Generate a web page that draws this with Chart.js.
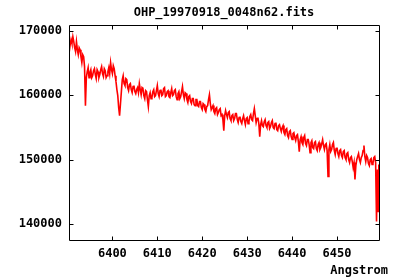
<!DOCTYPE html>
<html lang="en">
<head>
    <meta charset="UTF-8">
    <title>OHP_19970918_0048n62.fits</title>
    <script src="https://cdn.jsdelivr.net/npm/chart.js"></script>
    <style>
        body { margin: 0; background: #fff; }
        canvas { display: block; }
    </style>
</head>
<body>
    <canvas id="spectrum" width="400" height="280"></canvas>

    <script>
        const chartTitle = 'OHP_19970918_0048n62.fits';
        const xLabel = 'Angstrom';

        const wavelength = [
            6390.4, 6390.6, 6390.8, 6391.0, 6391.2, 6391.4, 6391.6, 6391.8, 6392.0, 6392.2,
            6392.4, 6392.6, 6392.8, 6393.0, 6393.2, 6393.4, 6393.6, 6393.8, 6394.0, 6394.2,
            6394.4, 6394.6, 6394.8, 6395.0, 6395.2, 6395.4, 6395.6, 6395.8, 6396.0, 6396.2,
            6396.4, 6396.6, 6396.8, 6397.0, 6397.2, 6397.4, 6397.6, 6397.8, 6398.0, 6398.2,
            6398.4, 6398.6, 6398.8, 6399.0, 6399.2, 6399.4, 6399.6, 6399.8, 6400.0, 6400.2,
            6400.4, 6400.6, 6400.8, 6401.0, 6401.2, 6401.4, 6401.6, 6401.8, 6402.0, 6402.2,
            6402.4, 6402.6, 6402.8, 6403.0, 6403.2, 6403.4, 6403.6, 6403.8, 6404.0, 6404.2,
            6404.4, 6404.6, 6404.8, 6405.0, 6405.2, 6405.4, 6405.6, 6405.8, 6406.0, 6406.2,
            6406.4, 6406.6, 6406.8, 6407.0, 6407.2, 6407.4, 6407.6, 6407.8, 6408.0, 6408.2,
            6408.4, 6408.6, 6408.8, 6409.0, 6409.2, 6409.4, 6409.6, 6409.8, 6410.0, 6410.2,
            6410.4, 6410.6, 6410.8, 6411.0, 6411.2, 6411.4, 6411.6, 6411.8, 6412.0, 6412.2,
            6412.4, 6412.6, 6412.8, 6413.0, 6413.2, 6413.4, 6413.6, 6413.8, 6414.0, 6414.2,
            6414.4, 6414.6, 6414.8, 6415.0, 6415.2, 6415.4, 6415.6, 6415.8, 6416.0, 6416.2,
            6416.4, 6416.6, 6416.8, 6417.0, 6417.2, 6417.4, 6417.6, 6417.8, 6418.0, 6418.2,
            6418.4, 6418.6, 6418.8, 6419.0, 6419.2, 6419.4, 6419.6, 6419.8, 6420.0, 6420.2,
            6420.4, 6420.6, 6420.8, 6421.0, 6421.2, 6421.4, 6421.6, 6421.8, 6422.0, 6422.2,
            6422.4, 6422.6, 6422.8, 6423.0, 6423.2, 6423.4, 6423.6, 6423.8, 6424.0, 6424.2,
            6424.4, 6424.6, 6424.8, 6425.0, 6425.2, 6425.4, 6425.6, 6425.8, 6426.0, 6426.2,
            6426.4, 6426.6, 6426.8, 6427.0, 6427.2, 6427.4, 6427.6, 6427.8, 6428.0, 6428.2,
            6428.4, 6428.6, 6428.8, 6429.0, 6429.2, 6429.4, 6429.6, 6429.8, 6430.0, 6430.2,
            6430.4, 6430.6, 6430.8, 6431.0, 6431.2, 6431.4, 6431.6, 6431.8, 6432.0, 6432.2,
            6432.4, 6432.6, 6432.8, 6433.0, 6433.2, 6433.4, 6433.6, 6433.8, 6434.0, 6434.2,
            6434.4, 6434.6, 6434.8, 6435.0, 6435.2, 6435.4, 6435.6, 6435.8, 6436.0, 6436.2,
            6436.4, 6436.6, 6436.8, 6437.0, 6437.2, 6437.4, 6437.6, 6437.8, 6438.0, 6438.2,
            6438.4, 6438.6, 6438.8, 6439.0, 6439.2, 6439.4, 6439.6, 6439.8, 6440.0, 6440.2,
            6440.4, 6440.6, 6440.8, 6441.0, 6441.2, 6441.4, 6441.6, 6441.8, 6442.0, 6442.2,
            6442.4, 6442.6, 6442.8, 6443.0, 6443.2, 6443.4, 6443.6, 6443.8, 6444.0, 6444.2,
            6444.4, 6444.6, 6444.8, 6445.0, 6445.2, 6445.4, 6445.6, 6445.8, 6446.0, 6446.2,
            6446.4, 6446.6, 6446.8, 6447.0, 6447.2, 6447.4, 6447.6, 6447.8, 6448.0, 6448.2,
            6448.4, 6448.6, 6448.8, 6449.0, 6449.2, 6449.4, 6449.6, 6449.8, 6450.0, 6450.2,
            6450.4, 6450.6, 6450.8, 6451.0, 6451.2, 6451.4, 6451.6, 6451.8, 6452.0, 6452.2,
            6452.4, 6452.6, 6452.8, 6453.0, 6453.2, 6453.4, 6453.6, 6453.8, 6454.0, 6454.2,
            6454.4, 6454.6, 6454.8, 6455.0, 6455.2, 6455.4, 6455.6, 6455.8, 6456.0, 6456.2,
            6456.4, 6456.6, 6456.8, 6457.0, 6457.2, 6457.4, 6457.6, 6457.8, 6458.0, 6458.2,
            6458.4, 6458.6, 6458.8, 6459.0, 6459.2, 6459.3
        ];

        const flux = [
            166750, 167830, 168610, 167990, 169070, 168300, 167370, 166750, 168300, 167060,
            166290, 167370, 167060, 165980, 165050, 166290, 165980, 164430, 158390, 162720,
            163650, 164270, 162720, 163500, 163960, 162720, 163030, 163810, 164120, 163190,
            162570, 163960, 163650, 162720, 163190, 163960, 164430, 163340, 162880, 164120,
            163810, 162720, 163030, 163650, 164270, 163340, 165050, 163960, 163340, 164580,
            164120, 163030, 162110, 160870, 159940, 158080, 156840, 158700, 160560, 162420,
            163030, 161800, 161490, 162570, 162420, 161180, 160710, 161640, 161800, 160870,
            160400, 161330, 161490, 160560, 160250, 160870, 161180, 160400, 161800, 160870,
            160090, 161180, 161020, 159940, 159470, 160710, 160560, 159320, 158240, 159940,
            160400, 159470, 159630, 160560, 160870, 159780, 159940, 160710, 161490, 160250,
            159780, 160710, 160870, 159940, 160090, 161020, 161180, 159780, 159940, 160560,
            160710, 159780, 159630, 160400, 161020, 159940, 160090, 160710, 160870, 159780,
            159320, 160250, 160560, 159470, 159780, 160560, 161330, 160090, 159470, 160400,
            160250, 159320, 158860, 159780, 159940, 159010, 158700, 159470, 159470, 158550,
            158390, 159320, 159320, 158390, 158240, 159010, 159010, 158080, 157770, 158700,
            158550, 157770, 157460, 158240, 158390, 159320, 160090, 158700, 157770, 158080,
            158390, 157460, 157150, 157930, 158080, 157000, 157310, 157770, 157930, 156840,
            157000, 156220, 154520, 156840, 157620, 157000, 156530, 157310, 157460, 156380,
            156070, 156840, 157000, 156070, 156380, 157150, 157150, 156220, 155760, 156530,
            156690, 155910, 155600, 156380, 156840, 156070, 155450, 156380, 156530, 155600,
            155910, 156690, 157000, 156220, 156070, 157150, 157930, 156840, 155760, 156380,
            156530, 155600, 153590, 155450, 156070, 155300, 155140, 155910, 156220, 155300,
            154990, 155760, 155910, 154830, 155140, 155760, 156070, 154990, 154830, 155600,
            155760, 154680, 154520, 155300, 155450, 154830, 154370, 154990, 155300, 154210,
            153900, 154680, 154830, 153750, 153440, 154370, 154520, 153590, 153130, 154060,
            154210, 153440, 152970, 153750, 153900, 152820, 151270, 153130, 153590, 152660,
            152350, 153440, 153750, 152510, 152200, 153130, 153130, 152350, 151110, 152660,
            152970, 151890, 151730, 152660, 152820, 151730, 151420, 152350, 152660, 151580,
            151890, 152510, 153130, 152200, 151580, 152350, 152510, 151420, 147400, 151580,
            152350, 151270, 151580, 152350, 152660, 151420, 150800, 151730, 151890, 150960,
            150500, 151420, 151580, 150650, 150340, 151270, 151420, 150340, 150030, 150960,
            151110, 150030, 149570, 150340, 150500, 149720, 148790, 149570, 146940, 149100,
            150030, 150500, 150960, 150030, 149570, 150340, 150650, 151420, 152200, 150500,
            149720, 150650, 150340, 149410, 149100, 150030, 150190, 149260, 149410, 150340,
            150500, 149570, 140430, 148480, 141980, 149260
        ];

        const xTicks = [6400, 6410, 6420, 6430, 6440, 6450];
        const yTicks = [140000, 150000, 160000, 170000];

        const monoFont = { family: "'DejaVu Sans Mono', monospace", size: 12, weight: 'bold' };

        // gnuplot style frame: full box with inward tics on all four sides
        const framePlugin = {
            id: 'frame',
            afterDatasetsDraw(chart) {
                const { ctx, chartArea: a, scales } = chart;
                const L = Math.round(a.left) + 0.5, R = Math.round(a.right) + 0.5;
                const T = Math.round(a.top) + 0.5, B = Math.round(a.bottom) + 0.5;
                const tic = 4;
                ctx.save();
                ctx.strokeStyle = '#000';
                ctx.lineWidth = 1;
                ctx.beginPath();
                yTicks.forEach(v => {
                    const y = Math.round(scales.y.getPixelForValue(v)) + 0.5;
                    ctx.moveTo(L, y); ctx.lineTo(L + tic, y);
                    ctx.moveTo(R, y); ctx.lineTo(R - tic, y);
                });
                xTicks.forEach(v => {
                    const x = Math.round(scales.x.getPixelForValue(v)) + 0.5;
                    ctx.moveTo(x, B); ctx.lineTo(x, B - tic);
                    ctx.moveTo(x, T); ctx.lineTo(x, T + tic);
                });
                ctx.rect(L, T, R - L, B - T);
                ctx.stroke();

                ctx.fillStyle = '#000';
                ctx.font = 'bold 12px "DejaVu Sans Mono", monospace';
                ctx.textAlign = 'right';
                ctx.textBaseline = 'middle';
                ctx.fillText(xLabel, 388, 271);
                ctx.restore();
            }
        };

        new Chart(document.getElementById('spectrum'), {
            type: 'line',
            data: {
                datasets: [{
                    data: wavelength.map((w, i) => ({ x: w, y: flux[i] })),
                    borderColor: '#ff0000',
                    borderWidth: 1.6,
                    pointRadius: 0,
                    tension: 0,
                    fill: false
                }]
            },
            options: {
                responsive: false,
                animation: false,
                layout: { padding: { left: 0, right: 21, top: 0, bottom: 0 } },
                plugins: {
                    legend: { display: false },
                    tooltip: { enabled: false },
                    title: {
                        display: true,
                        text: chartTitle,
                        fullSize: false,
                        color: '#000',
                        font: monoFont,
                        padding: { top: 6, bottom: 4.6 }
                    }
                },
                scales: {
                    x: {
                        type: 'linear',
                        min: 6390.34,
                        max: 6459.35,
                        afterFit: s => { s.height = 40; },
                        afterBuildTicks: s => { s.ticks = xTicks.map(v => ({ value: v })); },
                        grid: { display: false, drawTicks: false },
                        border: { display: false },
                        ticks: { color: '#000', font: monoFont, padding: 7, maxRotation: 0, autoSkip: false, callback: v => String(v) }
                    },
                    y: {
                        min: 137570,
                        max: 170880,
                        afterFit: s => { s.width = 69; },
                        afterBuildTicks: s => { s.ticks = yTicks.map(v => ({ value: v })); },
                        grid: { display: false, drawTicks: false },
                        border: { display: false },
                        ticks: { color: '#000', font: monoFont, padding: 7, callback: v => String(v) }
                    }
                }
            },
            plugins: [framePlugin]
        });
    </script>
</body>
</html>
